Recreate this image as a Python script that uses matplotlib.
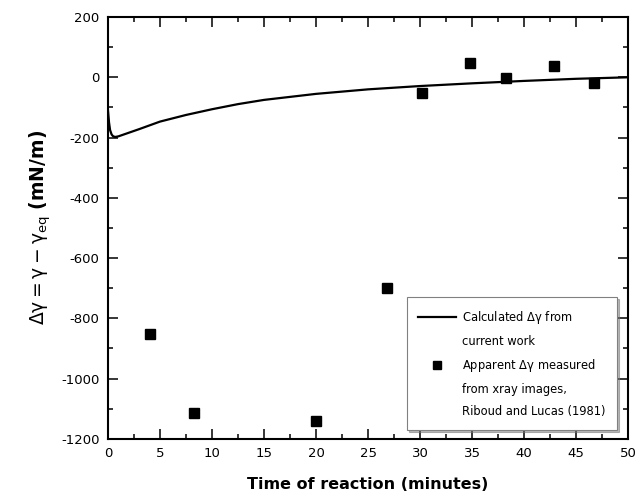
import numpy as np
import matplotlib
matplotlib.use('Agg')
import matplotlib.pyplot as plt
from matplotlib.lines import Line2D
from matplotlib.ticker import MultipleLocator

plt.rcParams['axes.unicode_minus'] = False

# calculated curve
calc_t = [0.0, 0.1, 0.2, 0.35, 0.5, 0.7, 1.0, 2.0, 3.0, 5.0, 7.5, 10.0, 12.5, 15.0,
          20.0, 25.0, 30.0, 35.0, 40.0, 45.0, 50.0]
calc_dg = [-110, -150, -175, -190, -196, -198, -196, -184, -172, -147, -125, -106, -89, -75,
           -55, -40, -29, -20, -12, -5, 0]

# apparent values from xray images, Riboud and Lucas (1981)
meas_t = [4.0, 8.3, 20.0, 26.8, 30.2, 34.8, 38.3, 42.9, 46.7]
meas_dg = [-852, -1115, -1140, -700, -51, 48, -3, 36, -20]

fig = plt.figure(figsize=(6.39, 5.01), dpi=100)
ax = fig.add_axes([0.169, 0.124, 0.814, 0.842])

ax.plot(calc_t, calc_dg, color='black', lw=1.6)
ax.plot(meas_t, meas_dg, 's', color='black', ms=7.5, mec='black')

ax.set_xlim(0, 50)
ax.set_ylim(-1200, 200)
ax.xaxis.set_major_locator(MultipleLocator(5))
ax.xaxis.set_minor_locator(MultipleLocator(2.5))
ax.yaxis.set_major_locator(MultipleLocator(200))
ax.yaxis.set_minor_locator(MultipleLocator(100))
ax.tick_params(which='both', direction='in', top=True, right=True, width=1.1, labelsize=9.5)
ax.tick_params(which='major', length=7, pad=6)
ax.tick_params(which='minor', length=3.6)
for s in ax.spines.values():
    s.set_linewidth(1.5)

ax.set_xlabel('Time of reaction (minutes)', fontsize=11.5, fontweight='bold', labelpad=12)
ax.set_ylabel(r'$\mathrm{\Delta\gamma = \gamma - \gamma_{eq}}$ (mN/m)', fontsize=13.5,
              fontweight='bold', labelpad=6)

blank = Line2D([], [], linestyle='none')
handles = [Line2D([], [], color='black', lw=1.6), blank,
           Line2D([], [], marker='s', linestyle='none', color='black', ms=6), blank, blank]
labels = [r'Calculated $\mathrm{\Delta\gamma}$ from', 'current work',
          r'Apparent $\mathrm{\Delta\gamma}$ measured', 'from xray images,',
          'Riboud and Lucas (1981)']
leg = ax.legend(handles, labels, loc='lower right', bbox_to_anchor=(0.979, 0.021),
                borderaxespad=0, fontsize=8.3, handlelength=3.3, handletextpad=0.5,
                labelspacing=0.8, borderpad=1.0, fancybox=False, framealpha=1,
                shadow={'ox': 1.5, 'oy': -1.5, 'color': '0.45'})
leg.get_frame().set_edgecolor('0.5')
leg.get_frame().set_linewidth(0.8)

fig.savefig('out.png', dpi=100)
